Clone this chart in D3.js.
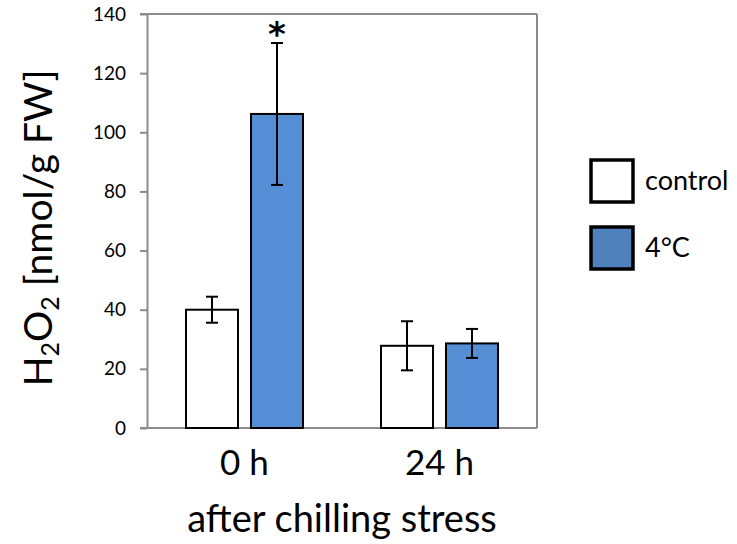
<!DOCTYPE html>
<html><head><meta charset="utf-8">
<script src="https://cdn.jsdelivr.net/npm/d3@7"></script>
<style>body{margin:0;background:#fff}svg{display:block}text{font-family:Lato,"Open Sans",sans-serif}</style>
</head><body>
<svg id="c" width="737" height="544"></svg>
<script>
const categories = ["0 h", "24 h"];
const seriesNames = ["control", "4°C"];
const controlValues = [40.0, 27.8];
const controlErrors = [4.4, 8.3];
const coldValues = [106.2, 28.6];
const coldErrors = [24.0, 4.9];
const yTicks = [0, 20, 40, 60, 80, 100, 120, 140];
const significance = ["*", ""];

const svg = d3.select("#c");
const L = 147, R = 537, T = 14, B = 428;
const y = d3.scaleLinear().domain([0, 140]).range([B, T]);
const x = d3.scaleBand().domain(categories).range([L, R]).paddingInner(0).paddingOuter(0);
const inner = d3.scaleBand().domain(seriesNames).range([0, 117]).paddingInner(0.2);

const axisColor = "#8c8c8c";
svg.append("line").attr("x1", L - 7).attr("x2", R).attr("y1", T).attr("y2", T).attr("stroke", axisColor).attr("stroke-width", 2);
svg.append("line").attr("x1", R).attr("x2", R).attr("y1", T).attr("y2", B).attr("stroke", axisColor).attr("stroke-width", 2);

const ya = svg.append("g").attr("transform", `translate(${L},0)`)
  .call(d3.axisLeft(y).tickValues(yTicks).tickSize(7).tickSizeOuter(0).tickPadding(14));
ya.select(".domain").attr("stroke", axisColor).attr("stroke-width", 2);
ya.selectAll(".tick line").attr("stroke", axisColor).attr("stroke-width", 2);
ya.selectAll(".tick text").attr("font-size", 19).attr("fill", "#000").style("font-family", "Lato, sans-serif");

svg.append("line").attr("x1", L - 7).attr("x2", R).attr("y1", B).attr("y2", B).attr("stroke", axisColor).attr("stroke-width", 2);

const series = [
  {name: seriesNames[0], vals: controlValues, errs: controlErrors, fill: "#ffffff"},
  {name: seriesNames[1], vals: coldValues, errs: coldErrors, fill: "#558ed5"}
];

series.forEach(s => {
  categories.forEach((c, i) => {
    const off = x(c) + (x.bandwidth() - 117) / 2;
    const bx = off + inner(s.name), bw = inner.bandwidth();
    svg.append("rect").attr("x", bx).attr("y", y(s.vals[i])).attr("width", bw).attr("height", B - y(s.vals[i]))
      .attr("fill", s.fill).attr("stroke", "#000").attr("stroke-width", 2);
    const cx = bx + bw / 2;
    const hi = y(s.vals[i] + s.errs[i]), lo = y(s.vals[i] - s.errs[i]);
    svg.append("line").attr("x1", cx).attr("x2", cx).attr("y1", hi).attr("y2", lo).attr("stroke", "#000").attr("stroke-width", 2);
    [hi, lo].forEach(yy => svg.append("line").attr("x1", cx - 6).attr("x2", cx + 6).attr("y1", yy).attr("y2", yy).attr("stroke", "#000").attr("stroke-width", 2));
    if (s.name === seriesNames[1] && significance[i]) {
      svg.append("text").attr("x", cx).attr("y", hi + 3).attr("text-anchor", "middle")
        .attr("font-size", 34).attr("font-weight", "bold").style("font-family", "DejaVu Sans, sans-serif").text(significance[i]);
    }
  });
});

categories.forEach(c => {
  svg.append("text").attr("x", x(c) + x.bandwidth() / 2).attr("y", 475).attr("text-anchor", "middle")
    .attr("font-size", 35).attr("fill", "#000").text(c);
});
svg.append("text").attr("x", 342).attr("y", 532).attr("text-anchor", "middle").attr("font-size", 38).text("after chilling stress");

const yt = svg.append("text").attr("transform", "translate(52,228) rotate(-90)").attr("text-anchor", "middle").attr("font-size", 39);
yt.append("tspan").text("H");
yt.append("tspan").attr("font-size", 25).attr("dy", 7).text("2");
yt.append("tspan").attr("dy", -7).text("O");
yt.append("tspan").attr("font-size", 25).attr("dy", 7).text("2");
yt.append("tspan").attr("dy", -7).text(" [nmol/g FW]");

const legendFill = ["#ffffff", "#4f81bd"];
seriesNames.forEach((n, i) => {
  const ly = 159 + i * 67;
  svg.append("rect").attr("x", 591).attr("y", ly + 1).attr("width", 42).attr("height", 42)
    .attr("fill", legendFill[i]).attr("stroke", "#000").attr("stroke-width", 3.5);
  svg.append("text").attr("x", 645).attr("y", ly + 31).attr("font-size", 27).text(n);
});
</script>
</body></html>
